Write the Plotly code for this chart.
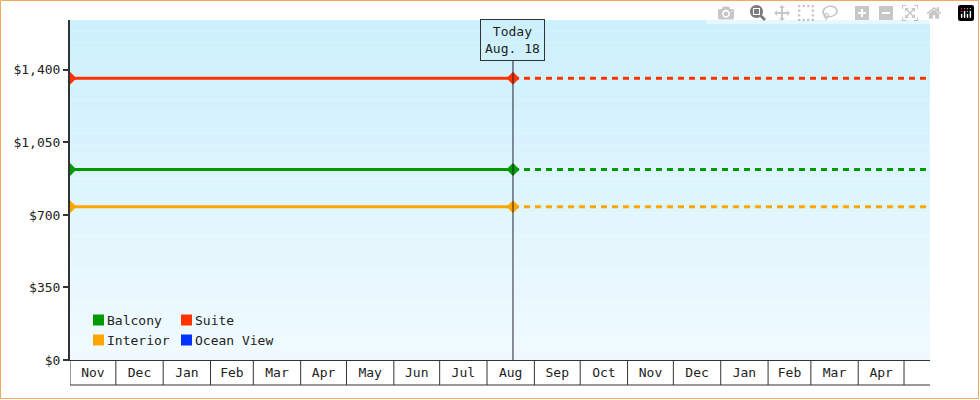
import plotly.graph_objects as go
import pandas as pd

series = ["Balcony", "Suite", "Interior", "Ocean View"]
colors = ["#009900", "#ff3300", "#ffa500", "#0033ff"]
values = [920, 1360, 740, None]
months = ["Nov","Dec","Jan","Feb","Mar","Apr","May","Jun","Jul","Aug","Sep","Oct","Nov","Dec","Jan","Feb","Mar","Apr"]
month_starts = pd.date_range("2024-11-01", periods=19, freq="MS")
start, today, end = pd.Timestamp("2024-11-01"), pd.Timestamp("2025-08-18"), pd.Timestamp("2026-05-18")
yticks = [0, 350, 700, 1050, 1400]
ymax = 1641

W, H, L, R, T, B = 980, 400, 70, 50, 20, 40
pw, ph = W - L - R, H - T - B
font = dict(family="DejaVu Sans Mono", size=13, color="#222")

fig = go.Figure()
for s, c, v in zip(series, colors, values):
    if v is None:
        continue
    fig.add_trace(go.Scatter(x=[start, today], y=[v, v], mode="lines+markers",
                             line=dict(color=c, width=3), marker=dict(size=10, color=c, symbol="diamond"),
                             showlegend=False))
    fig.add_trace(go.Scatter(x=[today, end], y=[v, v], mode="lines",
                             line=dict(color=c, width=3, dash="6px,5px"), showlegend=False))

shapes = []
n = 30
top, bot = (204, 240, 252), (240, 250, 254)
for i in range(n):
    t = i / (n - 1)
    col = tuple(round(top[k] + (bot[k] - top[k]) * t) for k in range(3))
    shapes.append(dict(type="rect", xref="paper", yref="paper", x0=0, x1=1,
                       y0=1 - (i + 1) / n, y1=1 - i / n, fillcolor="rgb(%d,%d,%d)" % col,
                       line=dict(width=0), layer="below"))
shapes.append(dict(type="rect", xref="paper", yref="paper", x0=-(L - 0.5) / pw, x1=1 + (R - 1.5) / pw,
                   y0=-(B - 1.5) / ph, y1=1 + (T - 0.5) / ph, line=dict(color="#f0a860", width=1)))
boxh = 25 / ph
for d in month_starts:
    shapes.append(dict(type="line", xref="x", yref="paper", x0=d, x1=d, y0=0, y1=-boxh,
                       line=dict(color="#333", width=1)))
shapes.append(dict(type="line", xref="paper", yref="paper", x0=0, x1=1, y0=-boxh, y1=-boxh,
                   line=dict(color="#333", width=1)))
shapes.append(dict(type="line", xref="x", yref="paper", x0=today, x1=today, y0=0, y1=1 - 40 / ph,
                   line=dict(color="#223", width=1)))
annotations = [dict(x=today, xref="x", y=1 - 20 / ph, yref="paper", yanchor="middle",
                    text="Today<br>Aug. 18", showarrow=False, font=font,
                    bgcolor="rgba(0,0,0,0)", bordercolor="#333", borderwidth=1, borderpad=4)]
for i, (s, c) in enumerate(zip(series, colors)):
    col, row = i % 2, i // 2
    x0 = (23 + col * 88) / pw
    yc = (40 - row * 20) / ph
    shapes.append(dict(type="rect", xref="paper", yref="paper", x0=x0, x1=x0 + 11 / pw,
                       y0=yc - 5.5 / ph, y1=yc + 5.5 / ph, fillcolor=c, line=dict(width=0)))
    annotations.append(dict(x=x0 + 12 / pw, y=yc, xref="paper", yref="paper", xanchor="left",
                            yanchor="middle", text=s, showarrow=False, font=font))

mids = [month_starts[i] + (month_starts[i + 1] - month_starts[i]) / 2 for i in range(len(months))]
fig.update_layout(
    width=W, height=H, margin=dict(l=L, r=R, t=T, b=B),
    paper_bgcolor="white", plot_bgcolor="rgba(0,0,0,0)",
    shapes=shapes, annotations=annotations, font=font,
    xaxis=dict(range=[start, end], tickvals=mids, ticktext=months, showgrid=False, zeroline=False,
               showline=True, linecolor="#333", linewidth=1, ticks=""),
    yaxis=dict(range=[0, ymax], tickvals=yticks, ticktext=["$%s" % format(v, ",") for v in yticks],
               showgrid=False, zeroline=False, showline=True, linecolor="#333", linewidth=2,
               ticks="outside", ticklen=5, tickcolor="#333", tickwidth=2),
)
fig.write_html("out.html", post_script="document.body.style.margin='0';")
